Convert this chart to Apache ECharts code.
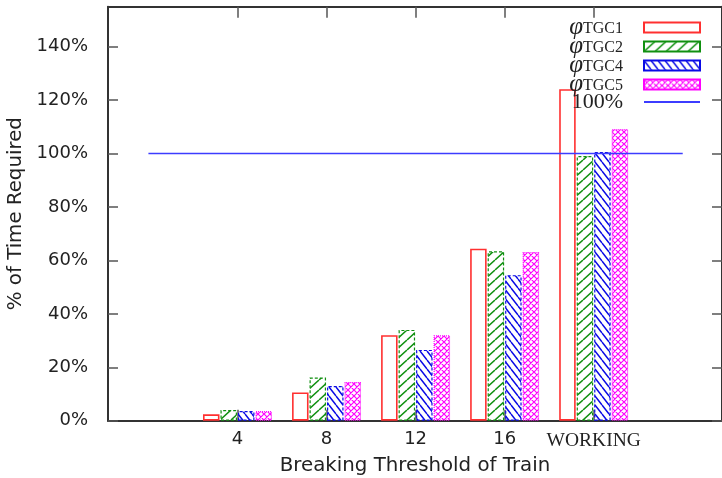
<!DOCTYPE html>
<html>
<head>
<meta charset="utf-8">
<script src="https://cdn.jsdelivr.net/npm/echarts@6/dist/echarts.min.js"></script>
<style>
html,body{margin:0;padding:0;background:#fff;}
#chart{width:722px;height:478px;}
</style>
</head>
<body>
<div id="chart"></div>
<script>
// ---- data ----
var categories = ['4', '8', '12', '16', 'WORKING'];
var seriesNames = ['φTGC1', 'φTGC2', 'φTGC4', 'φTGC5'];
var tgc1 = [2.4, 10.6, 32.0, 64.4, 124.1];
var tgc2 = [4.0, 16.2, 34.0, 63.4, 99.1];
var tgc4 = [3.6, 13.0, 26.5, 54.5, 100.6];
var tgc5 = [3.6, 14.5, 32.0, 63.2, 109.2];
var refName = '100%';
var refValue = 100;
var refRange = [-1, 5];
var yTicks = [0, 20, 40, 60, 80, 100, 120, 140];

// ---- patterns ----
function hatch(color, w, h, dir, lw) {
  var c = document.createElement('canvas');
  c.width = w; c.height = h;
  var g = c.getContext('2d');
  g.strokeStyle = color; g.lineWidth = lw;
  g.beginPath();
  for (var k = -1; k <= 1; k++) {
    if (dir === '/' || dir === 'x') { g.moveTo(k * w, h); g.lineTo(k * w + w, 0); }
    if (dir === '\\' || dir === 'x') { g.moveTo(k * w, 0); g.lineTo(k * w + w, h); }
  }
  g.stroke();
  return { image: c, repeat: 'repeat' };
}
var greenPat = hatch('#109010', 11, 10, '/', 1.5);
var bluePat = hatch('#0a0ae6', 7, 9, '\\', 1.5);
var magPat = hatch('#ff00ff', 6, 6, 'x', 1.2);

var styles = [
  { color: 'rgba(255,255,255,0)', borderColor: '#ff3030', borderWidth: 1.6, borderType: 'solid' },
  { color: greenPat, borderColor: '#109010', borderWidth: 1.2, borderType: [3, 2] },
  { color: bluePat, borderColor: '#0a0ae6', borderWidth: 1.2, borderType: [3, 2] },
  { color: magPat, borderColor: '#ff00ff', borderWidth: 1.2, borderType: [1, 1] }
];
var values = [tgc1, tgc2, tgc4, tgc5];

var series = values.map(function (arr, i) {
  return {
    name: seriesNames[i],
    type: 'bar',
    xAxisIndex: 0, yAxisIndex: 0,
    barWidth: 16.5,
    barGap: '6%',
    itemStyle: styles[i],
    emphasis: { disabled: true },
    data: arr.map(function (v, j) { return [j, v]; }),
    z: 2
  };
});
series.push({
  name: refName,
  type: 'line',
  xAxisIndex: 0, yAxisIndex: 0,
  symbol: 'none',
  lineStyle: { color: '#3c3cff', width: 1.5 },
  itemStyle: { color: '#3c3cff' },
  data: refRange.map(function (x) { return [x, refValue]; }),
  z: 5
});

var axisLineStyle = { color: '#333', width: 2 };
var tickStyle = { color: '#555', width: 1.5 };
var xMin = -1.454, xMax = 5.441;
var catIdx = categories.map(function (c, i) { return i; });

var option = {
  animation: false,
  backgroundColor: '#fff',
  grid: { left: 108, right: 0, top: 6.7, bottom: 57.3, containLabel: false, outerBoundsMode: 'none' },
  legend: {
    orient: 'vertical',
    right: 16,
    top: 10,
    align: 'right',
    itemWidth: 56,
    itemHeight: 10,
    itemGap: -6,
    selectedMode: false,
    data: seriesNames.map(function (n) { return { name: n, icon: 'rect' }; }).concat([
      { name: refName, itemStyle: { color: 'rgba(0,0,0,0)', borderWidth: 0, opacity: 0 } }
    ]),
    formatter: function (name) {
      if (name === refName) return '{pct|' + name + '}';
      return '{phi|φ}{sub|' + name.slice(1) + '}';
    },
    textStyle: {
      color: '#222',
      lineHeight: 18,
      padding: [0, 16, 0, 0],
      rich: {
        phi: { fontFamily: 'Liberation Serif', fontStyle: 'italic', fontSize: 25, lineHeight: 18, color: '#222' },
        sub: { fontFamily: 'Liberation Serif', fontSize: 16, lineHeight: 8, verticalAlign: 'bottom', color: '#222' },
        pct: { fontFamily: 'Liberation Serif', fontSize: 22, lineHeight: 18, color: '#222' }
      }
    }
  },
  xAxis: [
    {
      type: 'value', position: 'bottom', min: xMin, max: xMax,
      name: 'Breaking Threshold of Train', nameLocation: 'middle', nameGap: 33,
      nameTextStyle: { fontFamily: 'DejaVu Sans', fontSize: 19.8, color: '#222' },
      axisLine: { show: true, onZero: false, lineStyle: axisLineStyle },
      axisTick: { show: true, inside: true, length: 11, lineStyle: tickStyle, customValues: catIdx },
      axisLabel: {
        show: true, margin: 10, customValues: catIdx,
        fontFamily: 'DejaVu Sans', fontSize: 18, color: '#222',
        formatter: function (v) {
          var c = categories[Math.round(v)];
          return c === 'WORKING' ? '{sc|' + c + '}' : c;
        },
        rich: { sc: { fontFamily: 'Liberation Serif', fontSize: 19.5, color: '#222' } }
      },
      splitLine: { show: false }
    },
    {
      type: 'value', position: 'top', min: xMin, max: xMax,
      axisLine: { show: true, onZero: false, lineStyle: axisLineStyle },
      axisTick: { show: true, inside: true, length: 11, lineStyle: tickStyle, customValues: catIdx },
      axisLabel: { show: false },
      splitLine: { show: false }
    }
  ],
  yAxis: [
    {
      type: 'value', position: 'left', min: 0, max: 155,
      name: '% of Time Required', nameLocation: 'middle', nameGap: 76,
      nameTextStyle: { fontFamily: 'DejaVu Sans', fontSize: 19.8, color: '#222' },
      axisLine: { show: true, onZero: false, lineStyle: axisLineStyle },
      axisTick: { show: true, inside: true, length: 10, lineStyle: tickStyle, customValues: yTicks },
      axisLabel: {
        show: true, margin: 20, customValues: yTicks,
        fontFamily: 'DejaVu Sans', fontSize: 18, color: '#222',
        formatter: function (v) { return v + '%'; }
      },
      splitLine: { show: false }
    },
    {
      type: 'value', position: 'right', min: 0, max: 155,
      axisLine: { show: true, onZero: false, lineStyle: axisLineStyle },
      axisTick: { show: true, inside: true, length: 10, lineStyle: tickStyle, customValues: yTicks },
      axisLabel: { show: false },
      splitLine: { show: false }
    }
  ],
  series: series
};

var chart = echarts.init(document.getElementById('chart'), null, { renderer: 'canvas' });
chart.setOption(option);
</script>
</body>
</html>
